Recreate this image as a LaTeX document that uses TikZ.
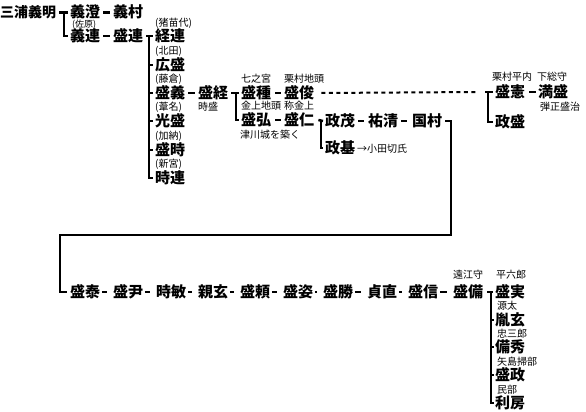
\documentclass[tikz,border=0pt]{standalone}
\usepackage{fontspec}
\setmainfont{Noto Sans CJK JP}
\begin{document}
\begin{tikzpicture}[x=1pt,y=-1pt,
  nm/.style={font=\bfseries\fontsize{15}{17}\selectfont, inner sep=0pt, anchor=west, text height=13pt, text depth=2pt},
  lb/.style={font=\fontsize{10}{12}\selectfont, inner sep=0pt, anchor=west, text height=8.6pt, text depth=1.4pt},
  sl/.style={font=\fontsize{9}{10}\selectfont, inner sep=0pt, anchor=west, text height=7.5pt, text depth=1pt},
  br/.style={line width=2.5pt},
  dl/.style={line width=2.5pt},
  big/.style={line width=2.2pt},
  dot/.style={line width=2pt, dash pattern=on 4pt off 3.5pt}]
\useasboundingbox (0,0) rectangle (586,412);
% --- top left
\node[nm, font=\bfseries\fontsize{14}{16}\selectfont] (miura) at (0,12.5) {三浦義明};
\node[nm] (yoshizumi) at (70,12.5) {義澄};
\node[nm] (yoshimura) at (113,12.5) {義村};
\node[sl] (lsahara) at (72,24) {(佐原)};
\node[nm] (yoshitsura) at (70,36) {義連};
\node[nm] (moritsura) at (113,36) {盛連};
% --- children of 盛連
\node[lb] (linawa) at (155,22.5) {(猪苗代)};
\node[nm] (tsunetsura) at (155,36) {経連};
\node[lb] (lkita) at (155,51) {(北田)};
\node[nm] (hiromori) at (155,65) {広盛};
\node[lb] (lfuji) at (155,79) {(藤倉)};
\node[nm] (moriyoshi) at (155,93) {盛義};
\node[lb] (lashi) at (155,107) {(葦名)};
\node[nm] (mitsumori) at (155,121) {光盛};
\node[lb] (lkano) at (155,136) {(加納)};
\node[nm] (moritoki) at (155,150) {盛時};
\node[lb] (lshin) at (155,164) {(新宮)};
\node[nm] (tokitsura) at (155,178) {時連};
% --- 盛経 branch
\node[nm] (moritsune) at (198,93) {盛経};
\node[lb] (ltoki) at (198,107) {時盛};
\node[lb] (lnana) at (241,79) {七之宮};
\node[nm] (moritane) at (241,93) {盛種};
\node[lb] (lkanaj) at (241,106) {金上地頭};
\node[nm] (morihiro) at (241,120) {盛弘};
\node[lb] (ltsu) at (240,135) {津川城を築く};
\node[lb] (lkuri) at (284,79) {栗村地頭};
\node[nm] (moritoshi) at (284,93) {盛俊};
\node[lb] (lsho) at (284,106) {称金上};
\node[nm] (morihito) at (284,120) {盛仁};
\node[nm] (masashige) at (325,121) {政茂};
\node[nm] (sukekiyo) at (368,121) {祐清};
\node[nm] (kunimura) at (412,121) {国村};
\node[nm] (masamoto) at (325,148) {政基};
\node[lb] (lodagiri) at (357,149) {→小田切氏};
% --- right top
\node[lb] (lkurih) at (492,77) {栗村平内};
\node[lb] (lshimo) at (537,77) {下総守};
\node[nm] (morinori) at (495,92) {盛憲};
\node[nm] (mitsumori2) at (538,92) {満盛};
\node[lb] (ldan) at (540,107) {弾正盛治};
\node[nm] (masamori) at (495,122) {政盛};
% --- bottom row
\node[nm] (b1) at (70,292) {盛泰};
\node[nm] (b2) at (113,292) {盛尹};
\node[nm] (b3) at (156,292) {時敏};
\node[nm] (b4) at (198,292) {親玄};
\node[nm] (b5) at (240,292) {盛頼};
\node[nm] (b6) at (283,292) {盛姿};
\node[nm] (b7) at (323,292) {盛勝};
\node[nm] (b8) at (367,292) {貞直};
\node[nm] (b9) at (408,292) {盛信};
\node[nm] (b10) at (453,292) {盛備};
\node[lb] (ltoto) at (453,275) {遠江守};
\node[lb] (lhei) at (496,275) {平六郎};
\node[nm] (c1) at (495,292) {盛実};
\node[lb] (lgen) at (497,305.5) {源太};
\node[nm] (c2) at (495,320) {胤玄};
\node[lb] (lchu) at (497,333.5) {忠三郎};
\node[nm] (c3) at (495,347) {備秀};
\node[lb] (lyaji) at (497,361.5) {矢島掃部};
\node[nm] (c4) at (495,375) {盛政};
\node[lb] (lmin) at (497,389.5) {民部};
\node[nm] (c5) at (495,403) {利房};
% --- connectors
\draw[br] ([xshift=3]miura.east) -- ([xshift=-2]yoshizumi.west);
\draw[br] ([xshift=-6]yoshizumi.west) |- ([xshift=-2]yoshitsura.west);
\draw[dl] ([xshift=3]yoshizumi.east) -- ([xshift=-3]yoshimura.west);
\draw[dl] ([xshift=3]yoshitsura.east) -- ([xshift=-3]moritsura.west);
\draw[br] ([xshift=3]moritsura.east) -- ([xshift=-2]tsunetsura.west);
\draw[br] ([xshift=-6]tsunetsura.west) |- ([xshift=-2]tokitsura.west);
\foreach \c in {hiromori,moriyoshi,mitsumori,moritoki}
  \draw[br] ([xshift=-6]\c.west) -- ([xshift=-2]\c.west);
\draw[dl] ([xshift=3]moriyoshi.east) -- ([xshift=-3]moritsune.west);
\draw[br] ([xshift=3]moritsune.east) -- ([xshift=-2]moritane.west);
\draw[br] ([xshift=-5]moritane.west) |- ([xshift=-2]morihiro.west);
\draw[dl] ([xshift=4]moritane.east) -- ([xshift=-3]moritoshi.west);
\draw[dl] ([xshift=4]morihiro.east) -- ([xshift=-3]morihito.west);
\draw[br] ([xshift=4]morihito.east) -- ([xshift=-2]masashige.west);
\draw[br] ([xshift=-4]masashige.west) |- ([xshift=-2]masamoto.west);
\draw[dl] ([xshift=3]masashige.east) -- ([xshift=-4]sukekiyo.west);
\draw[dl] ([xshift=3]sukekiyo.east) -- ([xshift=-5]kunimura.west);
\draw[dot] ([xshift=7]moritoshi.east) -- ([xshift=-18]morinori.west);
\draw[br] ([xshift=-10]morinori.west) -- ([xshift=-2]morinori.west);
\draw[br] ([xshift=-7]morinori.west) |- ([xshift=-2]masamori.west);
\draw[dl] ([xshift=4]morinori.east) -- ([xshift=-2]mitsumori2.west);
% long connector
\coordinate (t1) at (451,235);
\coordinate (t2) at (60,235);
\draw[big] ([xshift=3]kunimura.east) -| (t1) -- (t2) |- ([xshift=-3]b1.west);
% bottom row dashes
\foreach \a/\b in {b1/b2,b2/b3,b3/b4,b4/b5,b5/b6,b6/b7,b7/b8,b8/b9,b9/b10}
  \draw[dl] ([xshift=1.5]\a.east) -- ([xshift=-6]\b.west);
\draw[br] ([xshift=4]b10.east) -- ([xshift=-2]c1.west);
\draw[br] ([xshift=-4]c1.west) |- ([xshift=-1]c5.west);
\foreach \c in {c2,c3,c4}
  \draw[br] ([xshift=-4]\c.west) -- ([xshift=-1]\c.west);
\end{tikzpicture}
\end{document}
